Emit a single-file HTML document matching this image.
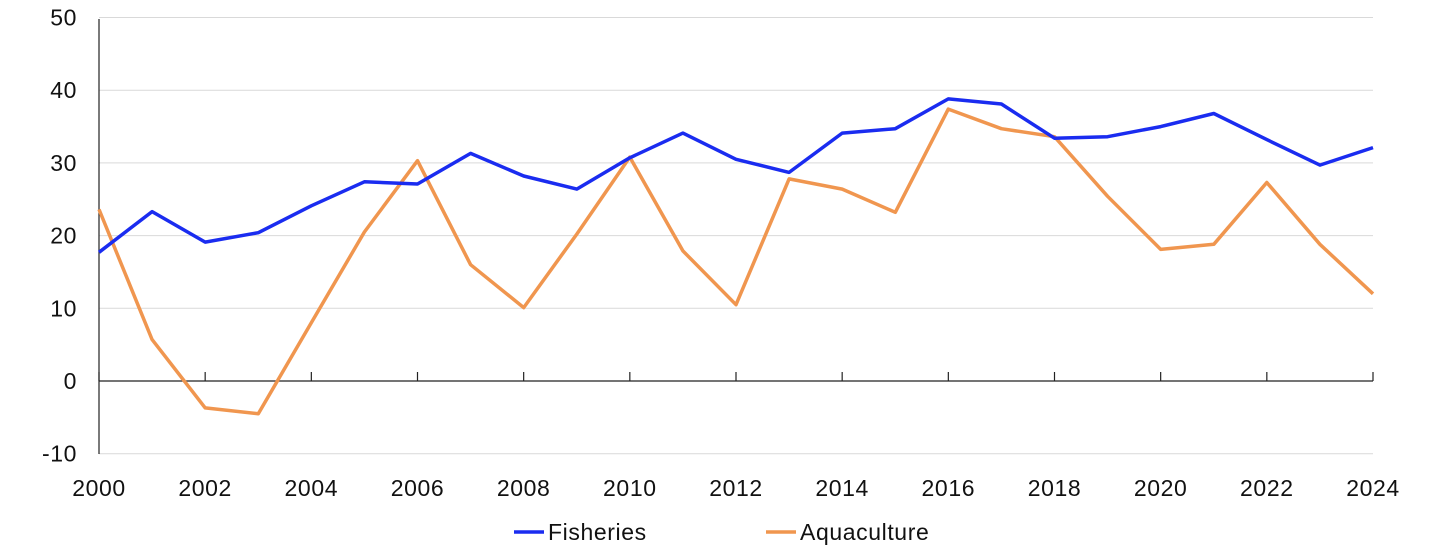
<!DOCTYPE html>
<html><head><meta charset="utf-8"><style>
body{margin:0;background:#fff;width:1445px;height:552px;overflow:hidden;font-family:"Liberation Sans",sans-serif}
text{font-family:"Liberation Sans",sans-serif;font-size:23px;letter-spacing:0.6px;fill:#111}
</style></head><body>
<svg id="s" width="1445" height="552" xmlns="http://www.w3.org/2000/svg"></svg>
<script>
var s=document.getElementById('s'),h='';
function X(i){return 99+i*1274/24}
function Y(v){return 381-v*7.27}
for(var v=-10;v<=50;v+=10){var y=Y(v);
 if(v!=0)h+='<line x1="99" x2="1373" y1="'+y+'" y2="'+y+'" stroke="#d9d9d9" stroke-width="1"/>';
 h+='<text x="77" y="'+(y+8)+'" text-anchor="end">'+v+'</text>';}
h+='<line x1="99" x2="99" y1="19" y2="454" stroke="#222" stroke-width="1.2"/>';
h+='<line x1="99" x2="1373" y1="381" y2="381" stroke="#222" stroke-width="1.2"/>';
for(var i=0;i<=24;i+=2){var x=X(i);h+='<line x1="'+x+'" x2="'+x+'" y1="372" y2="381" stroke="#222" stroke-width="1.2"/>';
 h+='<text x="'+x+'" y="496" text-anchor="middle">'+(2000+i)+'</text>';}
var f=[17.7,23.3,19.1,20.4,24.1,27.4,27.1,31.3,28.2,26.4,30.7,34.1,30.5,28.7,34.1,34.7,38.8,38.1,33.4,33.6,35.0,36.8,33.2,29.7,32.1];
var a=[23.6,5.7,-3.7,-4.5,8.0,20.5,30.3,16.0,10.1,20.2,30.8,17.9,10.5,27.8,26.4,23.2,37.4,34.7,33.6,25.4,18.1,18.8,27.3,18.8,12.0];
function P(d,c){return '<polyline fill="none" stroke="'+c+'" stroke-width="3.5" stroke-linejoin="round" points="'+d.map(function(v,i){return X(i).toFixed(1)+','+Y(v).toFixed(1)}).join(' ')+'"/>'}
h+=P(a,'#f0964f')+P(f,'#1a2cf0');
h+='<line x1="514" x2="544" y1="532" y2="532" stroke="#1a2cf0" stroke-width="3.5"/><text x="548" y="540">Fisheries</text>';
h+='<line x1="766" x2="796" y1="532" y2="532" stroke="#f0964f" stroke-width="3.5"/><text x="800" y="540">Aquaculture</text>';
s.innerHTML=h;
</script>
</body></html>
